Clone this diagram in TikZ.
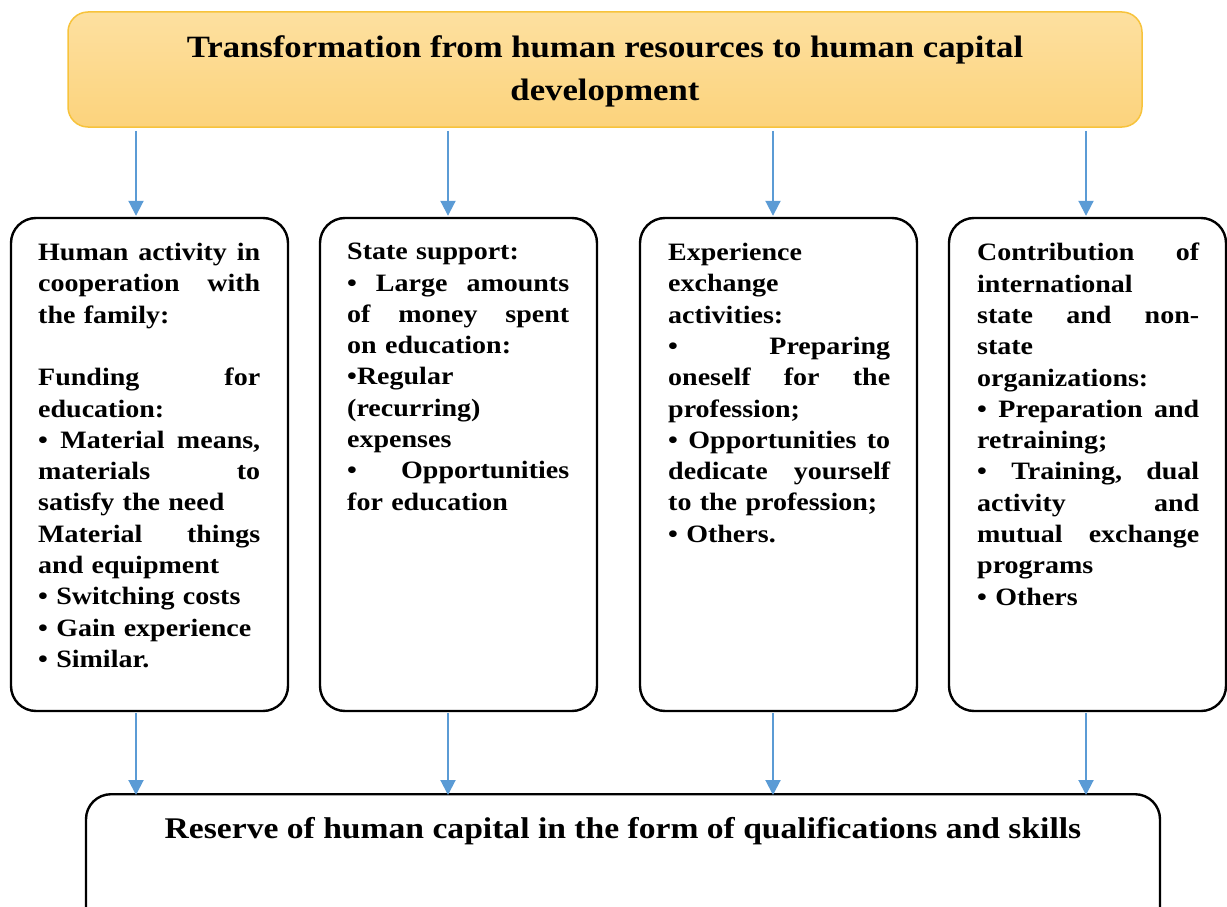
\documentclass[tikz,border=0pt]{standalone}
\usepackage{fontspec}
\setmainfont{Liberation Serif}[FakeStretch=1.12]
\usetikzlibrary{arrows.meta,calc}
\newcommand{\jl}[1]{\leavevmode\hbox to 222pt{#1}}
\begin{document}
\begin{tikzpicture}[x=1pt,y=-1pt,
  box/.style={draw=black,line width=2.4pt,rounded corners=25pt,inner sep=0pt},
  arr/.style={draw={rgb,255:red,91;green,155;blue,213},line width=2pt,-{Triangle[width=15pt,length=15pt]}},
  txt/.style={anchor=north west,inner sep=0pt,align=left,text width=222pt,font=\fontsize{25}{31.3}\selectfont\bfseries}]
\clip (0,0) rectangle (1227,907);
\definecolor{topA}{RGB}{253,224,160}
\definecolor{topB}{RGB}{252,211,124}
\definecolor{topE}{RGB}{247,195,60}
% top box
\node[rounded corners=20pt,draw=topE,line width=1.5pt,top color=topA,bottom color=topB,
  minimum width=1074pt,minimum height=115pt,inner sep=0pt] (top) at (605,69.5) {};
\node[align=center,font=\fontsize{31}{43}\selectfont\bfseries] (title) at (605,71) {Transformation from human resources to human capital\\development};
% middle boxes
\node[box,minimum width=277pt,minimum height=493pt] (b1) at (149.5,464.5) {};
\node[box,minimum width=277pt,minimum height=493pt] (b2) at (458.5,464.5) {};
\node[box,minimum width=277pt,minimum height=493pt] (b3) at (778.5,464.5) {};
\node[box,minimum width=277pt,minimum height=493pt] (b4) at (1087.5,464.5) {};
% bottom box
\node[box,minimum width=1074pt,minimum height=160pt,anchor=north] (bot) at (623,793) {};
\node[font=\fontsize{30}{36}\selectfont\bfseries] (bottxt) at (623,831) {Reserve of human capital in the form of qualifications and skills};
% texts
\node[txt] (t1) at (38,243) {\jl{Human\hfill activity\hfill in}\\\jl{cooperation\hfill with}\\the family:\\\mbox{}\\\jl{Funding\hfill for}\\education:\\\jl{•\hfill Material\hfill means,}\\\jl{materials\hfill to}\\satisfy the need\\\jl{Material\hfill things}\\and equipment\\• Switching costs\\• Gain experience\\• Similar.};
\node[txt] (t2) at (347,243) {State support:\\\jl{•\hfill Large\hfill amounts}\\\jl{of\hfill money\hfill spent}\\on education:\\•Regular\\(recurring)\\expenses\\\jl{•\hfill Opportunities}\\for education};
\node[txt] (t3) at (668,243) {Experience\\exchange\\activities:\\\jl{•\hfill Preparing}\\\jl{oneself\hfill for\hfill the}\\profession;\\\jl{•\hfill Opportunities\hfill to}\\\jl{dedicate\hfill yourself}\\to the profession;\\• Others.};
\node[txt] (t4) at (977,243) {\jl{Contribution\hfill of}\\international\\\jl{state\hfill and\hfill non-}\\state\\organizations:\\\jl{•\hfill Preparation\hfill and}\\retraining;\\\jl{•\hfill Training,\hfill dual}\\\jl{activity\hfill and}\\\jl{mutual\hfill exchange}\\programs\\• Others};
% arrow x positions
\coordinate (x1) at (136,0);
\coordinate (x2) at (448,0);
\coordinate (x3) at (773,0);
\coordinate (x4) at (1086,0);
\foreach \i/\b in {1/b1,2/b2,3/b3,4/b4}{
  \draw[arr,shorten <=3pt,shorten >=1pt] (top.south -| x\i) -- (\b.north -| x\i);
  \draw[arr,shorten <=1pt,shorten >=-2pt] (\b.south -| x\i) -- (bot.north -| x\i);
}
\end{tikzpicture}
\end{document}
